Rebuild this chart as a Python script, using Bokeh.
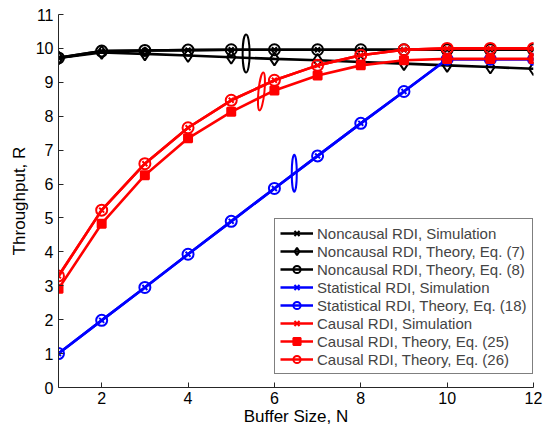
from bokeh.plotting import figure
from bokeh.models import FixedTicker, Legend, LegendItem
from bokeh.embed import file_html
from bokeh.resources import INLINE

# ---- data ----
N = [1, 2, 3, 4, 5, 6, 7, 8, 9, 10, 11, 12]
noncausal_sim = [9.72, 9.92, 9.94, 9.95, 9.96, 9.96, 9.96, 9.96, 9.96, 9.96, 9.96, 9.96]
noncausal_eq7 = [9.72, 9.88, 9.84, 9.79, 9.74, 9.69, 9.65, 9.60, 9.55, 9.50, 9.45, 9.40]
noncausal_eq8 = [9.72, 9.92, 9.94, 9.95, 9.96, 9.96, 9.96, 9.96, 9.96, 9.96, 9.96, 9.96]
stat_sim = [1.00, 1.98, 2.95, 3.93, 4.90, 5.87, 6.83, 7.79, 8.73, 9.68, 9.68, 9.68]
stat_eq18 = [1.00, 1.98, 2.95, 3.93, 4.90, 5.87, 6.83, 7.79, 8.73, 9.68, 9.68, 9.68]
causal_sim = [3.29, 5.23, 6.60, 7.66, 8.47, 9.06, 9.50, 9.80, 9.96, 10.0, 10.0, 10.0]
causal_eq25 = [2.91, 4.83, 6.26, 7.35, 8.13, 8.76, 9.20, 9.50, 9.65, 9.69, 9.69, 9.69]
causal_eq26 = [3.29, 5.23, 6.60, 7.66, 8.47, 9.06, 9.50, 9.80, 9.96, 10.0, 10.0, 10.0]

x_ticks = [2, 4, 6, 8, 10, 12]
y_ticks = [0, 1, 2, 3, 4, 5, 6, 7, 8, 9, 10, 11]

# annotation ellipses (x, y) marking curve groups
ell_black = (5.345, 9.85)
ell_red = (5.70, 8.73)
ell_blue = (6.46, 6.32)

labels = [
    "Noncausal RDI, Simulation",
    "Noncausal RDI, Theory, Eq. (7)",
    "Noncausal RDI, Theory, Eq. (8)",
    "Statistical RDI, Simulation",
    "Statistical RDI, Theory, Eq. (18)",
    "Causal RDI, Simulation",
    "Causal RDI, Theory, Eq. (25)",
    "Causal RDI, Theory, Eq. (26)",
]

FONT = "Liberation Sans"

p = figure(width=548, height=428, output_backend="svg", toolbar_location=None,
           x_range=(1, 12), y_range=(0, 11),
           min_border_left=58, min_border_right=15, min_border_top=14, min_border_bottom=40)
p.outline_line_color = None
p.xgrid.visible = False
p.ygrid.visible = False
p.background_fill_color = "white"

for ax in (p.xaxis[0], p.yaxis[0]):
    ax.major_tick_in = 5
    ax.major_tick_out = 0
    ax.minor_tick_line_color = None
    ax.axis_line_color = "#262626"
    ax.major_tick_line_color = "#262626"
    ax.major_label_text_font = FONT
    ax.major_label_text_font_size = "16px"
    ax.major_label_text_color = "black"
    ax.axis_label_text_font = FONT
    ax.axis_label_text_font_size = "17px"
    ax.axis_label_text_font_style = "normal"
    ax.axis_label_text_color = "black"

p.xaxis.ticker = FixedTicker(ticks=x_ticks)
p.yaxis.ticker = FixedTicker(ticks=y_ticks)
p.xaxis.axis_label = "Buffer Size, N"
p.yaxis.axis_label = "Throughput, R"
p.xaxis.major_label_standoff = 4
p.xaxis.axis_label_standoff = 0
p.yaxis.major_label_standoff = 5
p.yaxis.axis_label_standoff = 4

LW = 2.6
items = []

def series(ys, color, marker, size, fill, label):
    r1 = p.line(N, ys, line_color=color, line_width=LW)
    r2 = p.scatter(N, ys, marker=marker, size=size, line_color=color, line_width=2,
                   fill_color=color if fill else None)
    items.append(LegendItem(label=label, renderers=[r1, r2]))

series(noncausal_eq7, "black", "diamond", 13, False, labels[1])
series(noncausal_eq8, "black", "circle", 11, False, labels[2])
series(noncausal_sim, "black", "x", 7, False, labels[0])
series(stat_eq18, "#0000ff", "circle", 11, False, labels[4])
series(stat_sim, "#0000ff", "x", 7, False, labels[3])
series(causal_eq25, "#ff0000", "square", 8, True, labels[6])
series(causal_eq26, "#ff0000", "circle", 11, False, labels[7])
series(causal_sim, "#ff0000", "x", 7, False, labels[5])

order = [2, 0, 1, 4, 3, 7, 5, 6]
items = [items[i] for i in order]

p.ellipse(x=[ell_black[0]], y=[ell_black[1]], width=7, height=38, width_units="screen",
          height_units="screen", fill_color=None, line_color="black", line_width=2)
p.ellipse(x=[ell_red[0]], y=[ell_red[1]], width=6, height=38, width_units="screen",
          height_units="screen", angle=-0.1, fill_color=None, line_color="#ff0000", line_width=2)
p.ellipse(x=[ell_blue[0]], y=[ell_blue[1]], width=5, height=37, width_units="screen",
          height_units="screen", fill_color=None, line_color="#0000ff", line_width=2)

legend = Legend(items=items, location=(216, 13), margin=0, padding=5, spacing=0,
                glyph_width=33, glyph_height=18, label_height=18, label_standoff=4,
                label_text_font=FONT, label_text_font_size="15px",
                border_line_color="black", border_line_width=1,
                background_fill_color="white", background_fill_alpha=1)
p.add_layout(legend)

open("out.html", "w").write(file_html(p, INLINE))
